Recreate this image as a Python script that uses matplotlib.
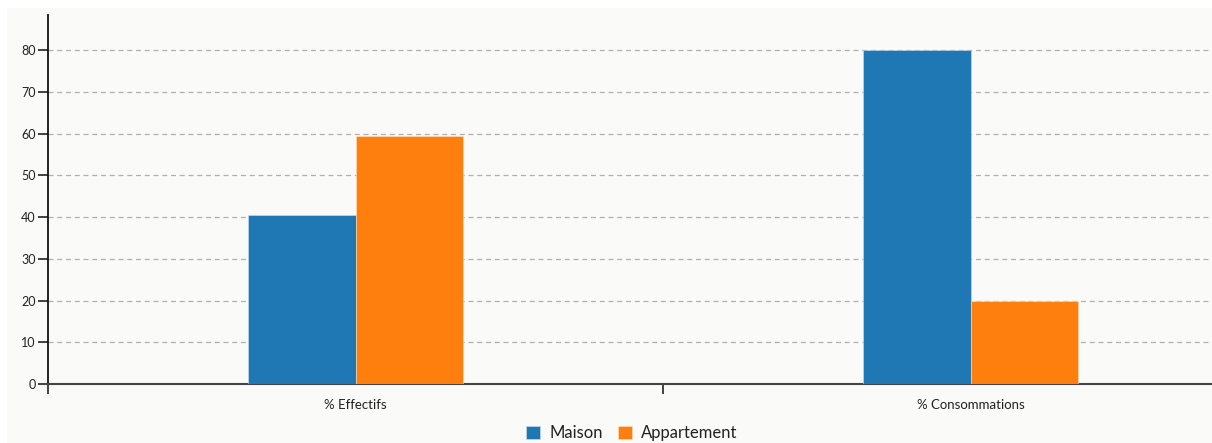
import matplotlib
matplotlib.use("Agg")
import matplotlib.pyplot as plt
from matplotlib.patches import Rectangle
import numpy as np

categories = ["% Effectifs", "% Consommations"]
series_names = ["Maison", "Appartement"]
maison = [40.5, 80.0]
appartement = [59.5, 20.0]
colors = ["#1f77b4", "#ff7f0e"]
yticks = [0, 10, 20, 30, 40, 50, 60, 70, 80]

plt.rcParams['font.family'] = ['Lato', 'DejaVu Sans']

fig = plt.figure(figsize=(12.12, 4.43), dpi=100, facecolor="white")
fig.patches.append(Rectangle((7/1212, 0), 1 - 7/1212, 1 - 8/443, transform=fig.transFigure,
                             facecolor="#fafaf8", edgecolor="none", zorder=-10))
# axis band extends past the right edge of the picture (clipped as in the reference)
ax = fig.add_axes([48/1212, 1 - 384/443, (1278 - 48)/1212, (384 - 15)/443])
ax.patch.set_alpha(0)

x = np.arange(len(categories)) + 0.5
w = 0.174
ax.bar(x - w/2, maison, width=w, color=colors[0], label=series_names[0], zorder=3,
       edgecolor="#cfe0ee", linewidth=0.4)
ax.bar(x + w/2, appartement, width=w, color=colors[1], label=series_names[1], zorder=3,
       edgecolor="#ffe0c4", linewidth=0.4)

ax.set_xlim(0, len(categories))
ax.set_ylim(0, 88.4)
ax.set_yticks(yticks)
ax.set_yticklabels([str(v) for v in yticks], fontsize=9, color="#222222")
for v in yticks[1:]:
    ax.axhline(v, color="#b0b0b0", linestyle=(0, (4, 3)), linewidth=0.9, zorder=1)

ax.set_xticks(np.arange(len(categories)))
ax.set_xticklabels([])
ax.tick_params(axis="x", which="major", length=7, width=1.2, color="#222222", direction="out")
ax.set_xticks(x, minor=True)
ax.set_xticklabels(categories, minor=True, fontsize=9.5, color="#222222")
ax.tick_params(axis="x", which="minor", length=0, pad=11)
ax.tick_params(axis="y", length=7, width=1.2, color="#222222", pad=2)

for s in ["top", "right"]:
    ax.spines[s].set_visible(False)
ax.spines["left"].set_color("#111111")
ax.spines["left"].set_linewidth(1.3)
ax.spines["bottom"].set_color("#444444")
ax.spines["bottom"].set_linewidth(1.5)

leg = fig.legend(loc="center", bbox_to_anchor=(632/1212, 1 - 433/443), ncol=2, frameon=False,
                 fontsize=12, handlelength=0.85, handleheight=0.85, handletextpad=0.55,
                 columnspacing=0.9)
for t in leg.get_texts():
    t.set_color("#222222")

fig.savefig("out.png", dpi=100, facecolor=fig.get_facecolor())
